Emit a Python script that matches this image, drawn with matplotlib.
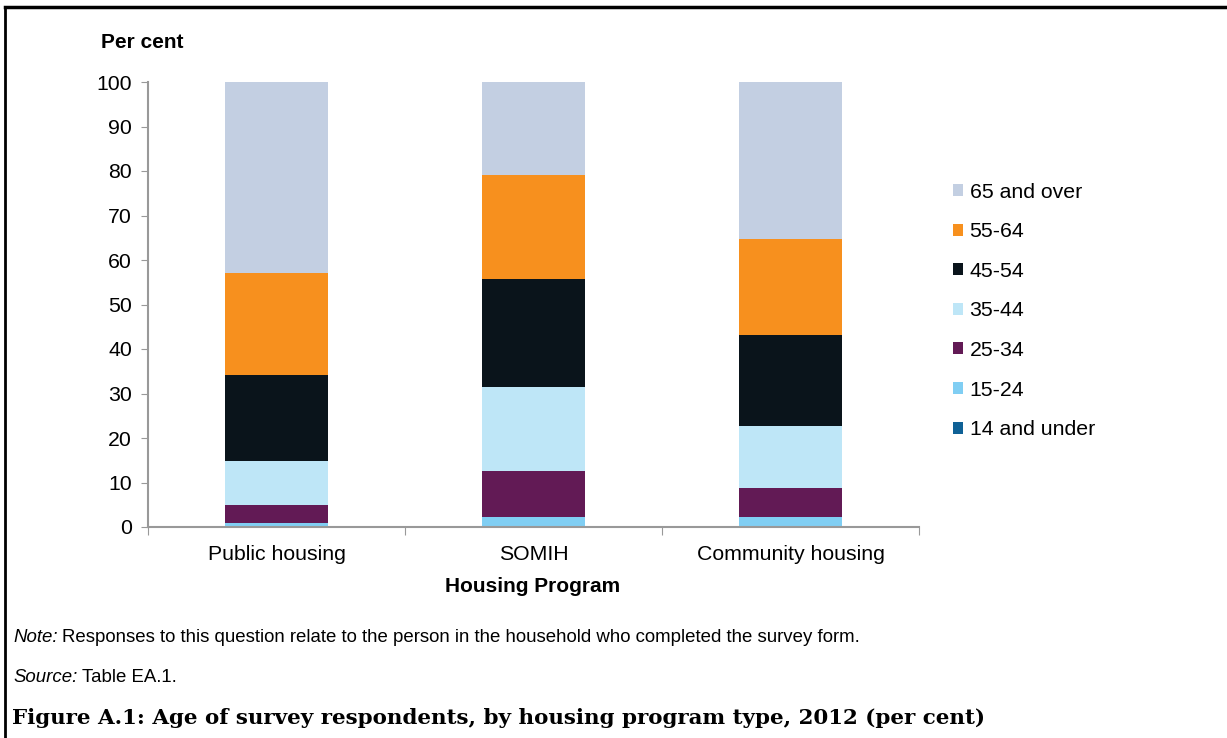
import matplotlib.pyplot as plt
from matplotlib.patches import Patch
from matplotlib.lines import Line2D
import numpy as np

plt.rcParams['font.family'] = ['Liberation Sans', 'DejaVu Sans']

programs = ["Public housing", "SOMIH", "Community housing"]
age_groups = ["14 and under", "15-24", "25-34", "35-44", "45-54", "55-64", "65 and over"]

# per cent of respondents in each age group, by program
under_14 = [0.1, 0.1, 0.1]
age_15_24 = [0.7, 2.2, 2.1]
age_25_34 = [4.1, 10.3, 6.6]
age_35_44 = [9.9, 18.9, 13.9]
age_45_54 = [19.4, 24.2, 20.4]
age_55_64 = [22.9, 23.4, 21.6]
over_65 = [42.9, 20.9, 35.3]

colours = ["#0f6196", "#80cef3", "#621a55", "#bee6f7", "#0a141b", "#f7901e", "#c3cfe2"]

series = [under_14, age_15_24, age_25_34, age_35_44, age_45_54, age_55_64, over_65]

W, H = 1227, 738
fig = plt.figure(figsize=(W / 100, H / 100), dpi=100)
ax = fig.add_axes([148 / W, 1 - 527 / H, (919 - 148) / W, (527 - 82) / H])

x = np.arange(len(programs))
bottom = np.zeros(len(programs))
for vals, col in zip(series, colours):
    ax.bar(x, vals, width=0.4, bottom=bottom, color=col, edgecolor='none')
    bottom += np.array(vals)

fs = 15.3
ax.set_xlim(-0.5, 2.5)
ax.set_ylim(0, 100)
ax.set_yticks(range(0, 101, 10))
ax.tick_params(axis='y', labelsize=fs, length=5, color='#999999', pad=6.5)

# category labels centred under bars, ticks on category boundaries
ax.set_xticks([-0.5, 0.5, 1.5, 2.5])
ax.set_xticklabels([])
ax.tick_params(axis='x', length=6, color='#999999')
for xi, name in zip(x, programs):
    ax.text(xi, -4.0, name, ha='center', va='top', fontsize=fs)

for s in ['top', 'right']:
    ax.spines[s].set_visible(False)
for s in ['left', 'bottom']:
    ax.spines[s].set_color('#999999')
    ax.spines[s].set_linewidth(1.5)

fig.text(142 / W, 1 - 43 / H, "Per cent", ha='center', va='center', fontsize=15, fontweight='bold')
fig.text(533 / W, 1 - 586 / H, "Housing Program", ha='center', va='center', fontsize=15, fontweight='bold')

handles = [Patch(facecolor=c, edgecolor='none') for c in colours][::-1]
leg = fig.legend(handles, age_groups[::-1], loc='upper left',
                 bbox_to_anchor=(944 / W, 1 - 174 / H), frameon=False,
                 fontsize=fs, handlelength=0.5, handleheight=0.5,
                 handletextpad=0.3, labelspacing=0.97, borderaxespad=0)

# note and source lines: italic lead-in followed by plain text
nfs = 13.4
fig.canvas.draw()
r = fig.canvas.get_renderer()
for lead, rest, ypix in [("Note:", "Responses to this question relate to the person in the household who completed the survey form.", 638),
                         ("Source:", "Table EA.1.", 677)]:
    t = fig.text(13 / W, 1 - ypix / H, lead, fontsize=nfs, style='italic', va='center')
    x1 = t.get_window_extent(r).x1
    fig.text((x1 + 5) / W, 1 - ypix / H, rest, fontsize=nfs, va='center')

fig.text(12 / W, 1 - 718 / H, "Figure A.1: Age of survey respondents, by housing program type, 2012 (per cent)",
         fontsize=15.4, fontweight='bold', family=['DejaVu Serif'], va='center')

# frame around the chart
fig.add_artist(Line2D([5 / W, 1], [1 - 7 / H, 1 - 7 / H], color='black', lw=2.5))
fig.add_artist(Line2D([5 / W, 5 / W], [0, 1 - 7 / H], color='black', lw=2))

fig.savefig("out.png", dpi=100)
